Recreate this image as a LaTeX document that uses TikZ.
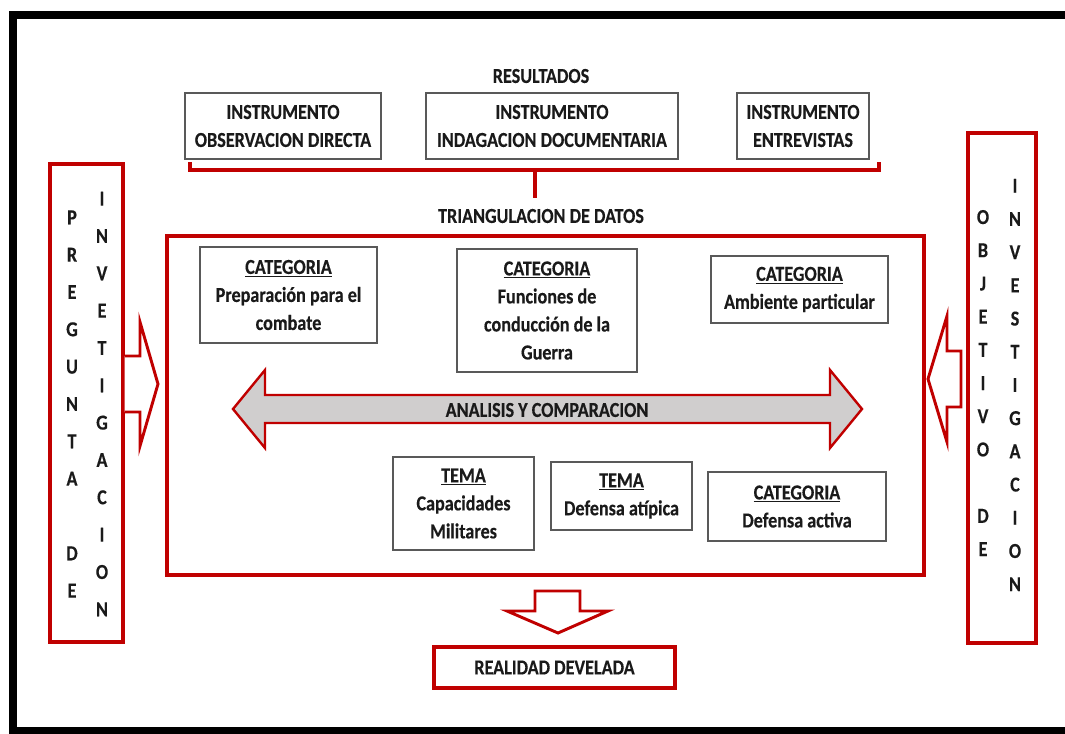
\documentclass[tikz,border=0pt]{standalone}
\usepackage{fontspec}
\setmainfont[FakeStretch=0.85, BoldFeatures={FakeBold=0.3}]{Carlito}
\definecolor{myred}{HTML}{C00000}
\definecolor{txt}{HTML}{1A1A1A}
\definecolor{arrowgray}{HTML}{D0CECE}
\definecolor{boxgray}{HTML}{595959}
\begin{document}
\begin{tikzpicture}[x=0.75pt,y=-0.75pt,
  lbl/.style={font=\bfseries\fontsize{16pt}{21pt}\selectfont, text=txt, align=center, inner sep=0pt},
  graybox/.style={lbl, draw=boxgray, line width=0.9pt, fill=white},
  redbox/.style={draw=myred, line width=2.4pt, fill=white},
  redline/.style={draw=myred, line width=2.4pt},
  blockarrow/.style={draw=myred, line width=2.2pt, fill=white, line join=miter},
  letters/.style={font=\bfseries\fontsize{16pt}{28pt}\selectfont, text=txt, align=center, inner sep=0pt},
  letters2/.style={font=\bfseries\fontsize{16pt}{24.9pt}\selectfont, text=txt, align=center, inner sep=0pt}
]
\useasboundingbox (0,0) rectangle (1065,733);
\clip (0,0) rectangle (1065,733);
\fill[white] (0,0) rectangle (1065,733);

% black outer frame
\draw[line width=6pt] (1090,15) -- (13,15) -- (13,731) -- (1090,731);

% top
\node[lbl] (res) at (541,76) {RESULTADOS};
\node[graybox, minimum width=147pt, minimum height=49.5pt] (obs) at (283,126) {INSTRUMENTO\\OBSERVACION DIRECTA};
\node[graybox, minimum width=189pt, minimum height=49.5pt] (ind) at (552,126) {INSTRUMENTO\\INDAGACION DOCUMENTARIA};
\node[graybox, minimum width=99pt, minimum height=49.5pt] (ent) at (803,126) {INSTRUMENTO\\ENTREVISTAS};

% bracket
\coordinate (bL) at (190,162);
\coordinate (bR) at (879,162);
\coordinate (bM) at (535,170);
\coordinate (bE) at (535,198);
\draw[redline] (bL) -- (bL |- bM) -- (bR |- bM) -- (bR);
\draw[redline] (bM) -- (bE);

\node[lbl] (tri) at (541,216) {TRIANGULACION DE DATOS};

% big box
\node[redbox, minimum width=567.75pt, minimum height=254.25pt, inner sep=0pt] (big) at (545.5,405.5) {};

\node[graybox, minimum width=132.75pt, minimum height=72pt] (c1) at (288.5,295) {\underline{CATEGORIA}\\Preparación para el\\combate};
\node[graybox, minimum width=135pt, minimum height=92.25pt] (c2) at (547,310.5) {\underline{CATEGORIA}\\Funciones de\\conducción de la\\Guerra};
\node[graybox, minimum width=132.75pt, minimum height=50.25pt] (c3) at (799.5,289.5) {\underline{CATEGORIA}\\Ambiente particular};

% double arrow
\draw[draw=myred, line width=1.8pt, fill=arrowgray, line join=miter]
  (233,409) -- (265,370) -- (265,395) -- (830,395) -- (830,370) -- (862,409)
  -- (830,448) -- (830,423) -- (265,423) -- (265,448) -- cycle;
\node[lbl] (ana) at (547,410) {ANALISIS Y COMPARACION};

\node[graybox, minimum width=105.75pt, minimum height=69.75pt] (t1) at (463.5,503.5) {\underline{TEMA}\\Capacidades\\Militares};
\node[graybox, minimum width=105.75pt, minimum height=51pt] (t2) at (621.5,496) {\underline{TEMA}\\Defensa atípica};
\node[graybox, minimum width=133.5pt, minimum height=51.75pt] (c4) at (797,506.5) {\underline{CATEGORIA}\\Defensa activa};

% down arrow
\draw[blockarrow] (535,591) -- (580,591) -- (580,611) -- (608,611) -- (558,633)
  -- (507,611) -- (535,611) -- cycle;
\node[lbl, draw=myred, line width=3pt, minimum width=180.75pt, minimum height=30.75pt] (real) at (554.5,667.5) {REALIDAD DEVELADA};

% left side
\node[redbox, minimum width=54.75pt, minimum height=358.5pt, inner sep=0pt] (preg) at (86.5,403) {};
\node[letters] (pc1) at (72,404) {P\\R\\E\\G\\U\\N\\T\\A\\~\\D\\E};
\node[letters] (pc2) at (102,404) {I\\N\\V\\E\\T\\I\\G\\A\\C\\I\\O\\N};
\draw[blockarrow] (preg.east |- 0,356) -- (140,356) -- (140,322) -- (158,384)
  -- (140,446) -- (140,412) -- (preg.east |- 0,412);

% right side
\node[redbox, minimum width=51pt, minimum height=382.5pt, inner sep=0pt] (obj) at (1002,388) {};
\node[letters2] (oc1) at (983,383) {O\\B\\J\\E\\T\\I\\V\\O\\~\\D\\E};
\node[letters2] (oc2) at (1015,385) {I\\N\\V\\E\\S\\T\\I\\G\\A\\C\\I\\O\\N};
\draw[blockarrow] (961,351) -- (947,351) -- (947,316) -- (928,379)
  -- (947,442) -- (947,407) -- (961,407) -- cycle;
\end{tikzpicture}
\end{document}
